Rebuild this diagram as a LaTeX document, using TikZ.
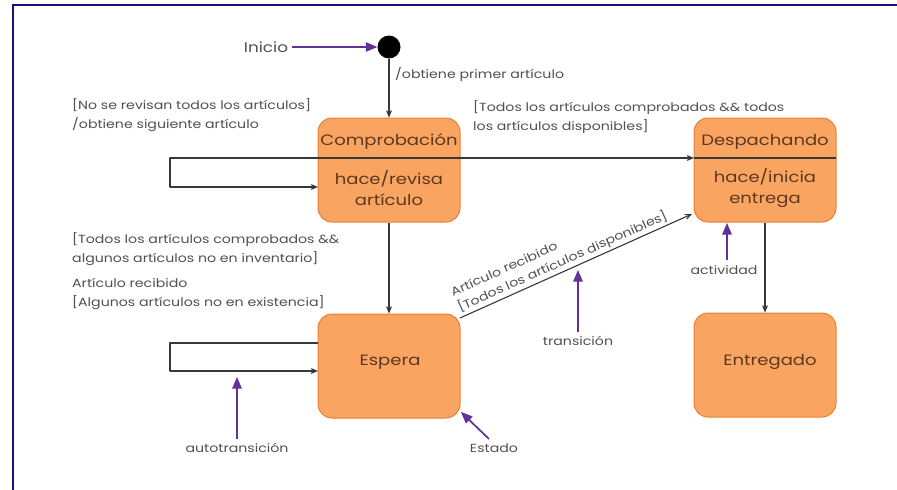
\documentclass[tikz,border=0pt]{standalone}
\usepackage{fontspec}
\setmainfont{Poppins}[FakeStretch=1.2]
\usetikzlibrary{arrows}

\definecolor{stfill}{RGB}{250,164,98}
\definecolor{stedge}{RGB}{232,128,52}
\definecolor{sttext}{RGB}{92,56,30}
\definecolor{lbltext}{RGB}{80,80,80}
\definecolor{trline}{RGB}{55,55,60}
\definecolor{notep}{RGB}{98,48,150}
\definecolor{frame}{RGB}{20,20,120}

\begin{document}
\begin{tikzpicture}[x=1pt,y=-1pt]

\tikzstyle{st}=[draw=stedge,fill=stfill,line width=1pt,rounded corners=14pt,minimum width=142pt,minimum height=104pt,inner sep=0pt]
\tikzstyle{ttl}=[text=sttext,font=\fontsize{15}{21}\selectfont,align=center,inner sep=0pt]
\tikzstyle{lbl}=[text=lbltext,font=\fontsize{11.8}{19}\selectfont,align=left,inner sep=0pt]
\tikzstyle{tr}=[draw=trline,line width=1.1pt,-angle 45,join=round]
\tikzstyle{note}=[draw=notep,line width=1.7pt,-triangle 45]

\useasboundingbox (0,0) rectangle (897,490);
\draw[frame,line width=2.5pt] (13,490)--(13,5)--(897,5);

% estados
\node[shape=circle,fill=black,minimum size=23pt,inner sep=0pt] (ini) at (389,47){};
\node[st] (comp) at (389,170){};
\node[st] (desp) at (765,170){};
\node[st] (esp) at (389,366){};
\node[st] (ent) at (765,365){};

\node[ttl] (compT) at (389,142) {Comprobación};
\node[ttl] (compB) at (389,188) {hace/revisa\\artículo};
\node[ttl] (despT) at (765,142) {Despachando};
\node[ttl] (despB) at (765,188) {hace/inicia\\entrega};
\node[ttl] (espT) at (390,362) {Espera};
\node[ttl] (entT) at (770,362) {Entregado};

% puntos de los bucles
\node[shape=coordinate] (cwu) at (318,158){};
\node[shape=coordinate] (cwd) at (318,187){};
\node[shape=coordinate] (clu) at (170,158){};
\node[shape=coordinate] (cld) at (170,187){};
\node[shape=coordinate] (ceu) at (460,158){};
\node[shape=coordinate] (dwu) at (694,158){};
\node[shape=coordinate] (deu) at (836,158){};
\node[shape=coordinate] (ewu) at (318,343){};
\node[shape=coordinate] (ewd) at (318,371){};
\node[shape=coordinate] (elu) at (170,343){};
\node[shape=coordinate] (eld) at (170,371){};
\node[shape=coordinate] (ene) at (460,318){};
\node[shape=coordinate] (dsw) at (692,214){};

\draw[trline,line width=1.1pt] (cwu)--(ceu);
\draw[trline,line width=1.1pt] (dwu)--(deu);

% transiciones
\draw[tr] (ini)--(comp);
\draw[tr] (cwu)--(clu)--(cld)--(cwd);
\draw[tr] (ceu)--(dwu);
\draw[tr] (comp)--(esp);
\draw[tr] (ewu)--(elu)--(eld)--(ewd);
\draw[tr] (ene)--(dsw) node[pos=0,sloped,anchor=south west,lbl,font=\fontsize{11.8}{17}\selectfont,inner sep=2pt] {Artículo recibido\\{[}Todos los artículos disponibles{]}};
\draw[tr] (desp)--(ent);

\node[lbl,anchor=west] (obt) at (395,74) {/obtiene primer artículo};
\node[lbl,anchor=west] (nose) at (72,115) {{[}No se revisan todos los artículos{]}\\/obtiene siguiente artículo};
\node[lbl,anchor=west] (todos) at (473,117) {{[}Todos los artículos comprobados \&\& todos\\los artículos disponibles{]}};
\node[lbl,anchor=west] (algun) at (72,249) {{[}Todos los artículos comprobados \&\&\\algunos artículos no en inventario{]}};
\node[lbl,anchor=west] (recib) at (72,294) {Artículo recibido\\{[}Algunos artículos no en existencia{]}};

% notas
\node[lbl,font=\fontsize{14}{16}\selectfont] (inicio) at (266,47) {Inicio};
\node[lbl] (autoL) at (237,448) {autotransición};
\node[lbl] (transL) at (578,341) {transición};
\node[lbl] (actL) at (724,270) {actividad};
\node[lbl] (estL) at (494,448) {Estado};
\node[shape=coordinate] (autoT) at (237,377){};
\node[shape=coordinate] (transT) at (578,270){};
\node[shape=coordinate] (actS) at (727,260){};
\node[shape=coordinate] (actT) at (727,223){};
\node[shape=coordinate] (estS) at (489,439){};
\node[shape=coordinate] (estT) at (461,412){};

\draw[note] (inicio.east)++(4,0)--(ini.west);
\draw[note] (autoL.north)++(0,-4)--(autoT);
\draw[note] (transL.north)++(0,-4)--(transT);
\draw[note] (actS)--(actT);
\draw[note] (estS)--(estT);

\end{tikzpicture}
\end{document}
